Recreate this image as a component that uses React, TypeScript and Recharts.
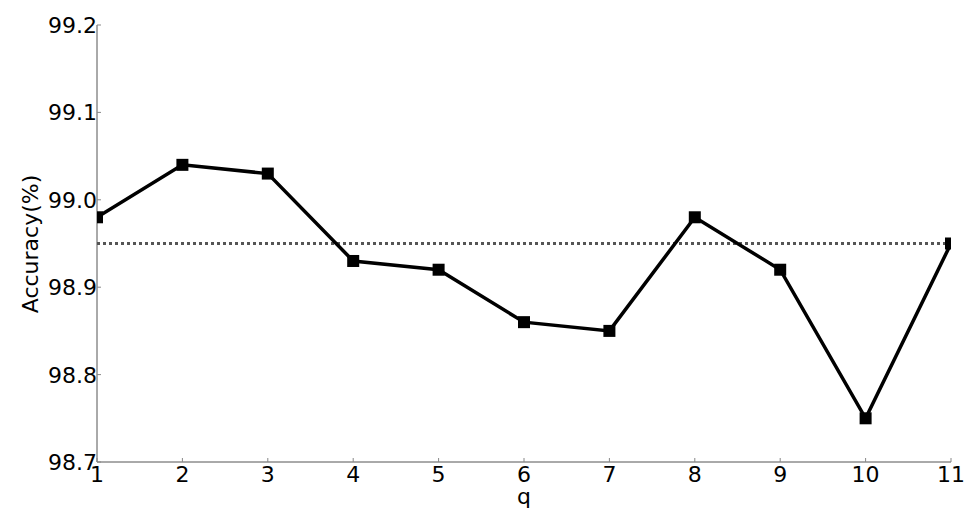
import React from 'react';
import { LineChart, Line, XAxis, YAxis, ReferenceLine, Label } from 'recharts';

const qValues = [1, 2, 3, 4, 5, 6, 7, 8, 9, 10, 11];
const accuracy = [98.98, 99.04, 99.03, 98.93, 98.92, 98.86, 98.85, 98.98, 98.92, 98.75, 98.95];
const baseline = 98.95;
const yTicks = [98.7, 98.8, 98.9, 99.0, 99.1, 99.2];
const xTicks = [1, 2, 3, 4, 5, 6, 7, 8, 9, 10, 11];

const data = qValues.map((q, i) => ({ q, acc: accuracy[i] }));

const FONT = '"DejaVu Sans", sans-serif';
const TICK_COLOR = '#888';
const FRAME = '#555';

const BottomTick = (props: any) => {
  const { x, y, payload } = props;
  return (
    <g>
      <line x1={x} y1={y} x2={x} y2={y - 4} stroke={TICK_COLOR} />
      <text x={x} y={y + 20} textAnchor="middle" fontFamily={FONT} fontSize={22} fill="#000">
        {payload.value}
      </text>
    </g>
  );
};

const LeftTick = (props: any) => {
  const { x, y, payload } = props;
  return (
    <g>
      <line x1={x} y1={y} x2={x + 4} y2={y} stroke={TICK_COLOR} />
      <text x={x} y={y + 8} textAnchor="end" fontFamily={FONT} fontSize={22} fill="#000">
        {Number(payload.value).toFixed(1)}
      </text>
    </g>
  );
};

const RightTick = (props: any) => {
  const { x, y } = props;
  return <line x1={x} y1={y} x2={x - 4} y2={y} stroke={TICK_COLOR} />;
};

const TopTick = (props: any) => {
  const { x, y } = props;
  return <line x1={x} y1={y} x2={x} y2={y + 4} stroke={TICK_COLOR} />;
};

const SquareDot = (props: any) => {
  const { cx, cy, index } = props;
  if (cx == null || cy == null) return <g key={`d${index}`} />;
  return <rect key={`d${index}`} x={cx - 6} y={cy - 6} width={12} height={12} fill="#000" />;
};

export default function App() {
  return (
    <div style={{ position: 'absolute', left: 0, top: 0, width: 970, height: 514, background: '#fff' }}>
      <LineChart
        width={970}
        height={514}
        data={data}
        margin={{ top: 25, right: 19, bottom: 0, left: 0 }}
      >
        <XAxis
          xAxisId="bottom"
          dataKey="q"
          type="number"
          domain={[1, 11]}
          ticks={xTicks}
          interval={0}
          allowDataOverflow
          height={52}
          tickSize={0}
          tickMargin={0}
          tickLine={false}
          axisLine={{ stroke: FRAME, strokeWidth: 1 }}
          tick={<BottomTick />}
        >
          <Label
            content={(p: any) => {
              const vb = p.viewBox || { x: 97, y: 462, width: 854 };
              return (
                <text x={vb.x + vb.width / 2} y={vb.y + 42} textAnchor="middle" fontFamily={FONT} fontSize={22} fill="#000">
                  q
                </text>
              );
            }}
          />
        </XAxis>
        <XAxis
          xAxisId="top"
          orientation="top"
          dataKey="q"
          type="number"
          domain={[1, 11]}
          ticks={xTicks}
          interval={0}
          allowDataOverflow
          height={0}
          tickSize={0}
          tickMargin={0}
          tickLine={false}
          axisLine={{ stroke: FRAME, strokeWidth: 1 }}
          tick={<TopTick />}
        />
        <YAxis
          yAxisId="left"
          type="number"
          domain={[98.7, 99.2]}
          ticks={yTicks}
          interval={0}
          allowDataOverflow
          width={97}
          tickSize={0}
          tickMargin={0}
          tickLine={false}
          axisLine={{ stroke: FRAME, strokeWidth: 1 }}
          tick={<LeftTick />}
        >
          <Label
            content={(p: any) => {
              const vb = p.viewBox || { x: 0, y: 25, width: 97, height: 437 };
              const cx = vb.x + 38;
              const cy = vb.y + vb.height / 2 + 0.5;
              return (
                <text
                  x={cx}
                  y={cy}
                  transform={`rotate(-90 ${cx} ${cy})`}
                  textAnchor="middle"
                  fontFamily={FONT}
                  fontSize={22}
                  fill="#000"
                >
                  Accuracy(%)
                </text>
              );
            }}
          />
        </YAxis>
        <YAxis
          yAxisId="right"
          orientation="right"
          type="number"
          domain={[98.7, 99.2]}
          ticks={yTicks}
          interval={0}
          allowDataOverflow
          width={0}
          tickSize={0}
          tickMargin={0}
          tickLine={false}
          axisLine={{ stroke: FRAME, strokeWidth: 1 }}
          tick={<RightTick />}
        />
        <ReferenceLine
          xAxisId="bottom"
          yAxisId="left"
          y={baseline}
          stroke="#555"
          strokeWidth={3}
          strokeDasharray="3 3"
        />
        <Line
          xAxisId="bottom"
          yAxisId="left"
          dataKey="acc"
          stroke="#000"
          strokeWidth={3.5}
          dot={SquareDot}
          activeDot={false}
          isAnimationActive={false}
        />
      </LineChart>
    </div>
  );
}
